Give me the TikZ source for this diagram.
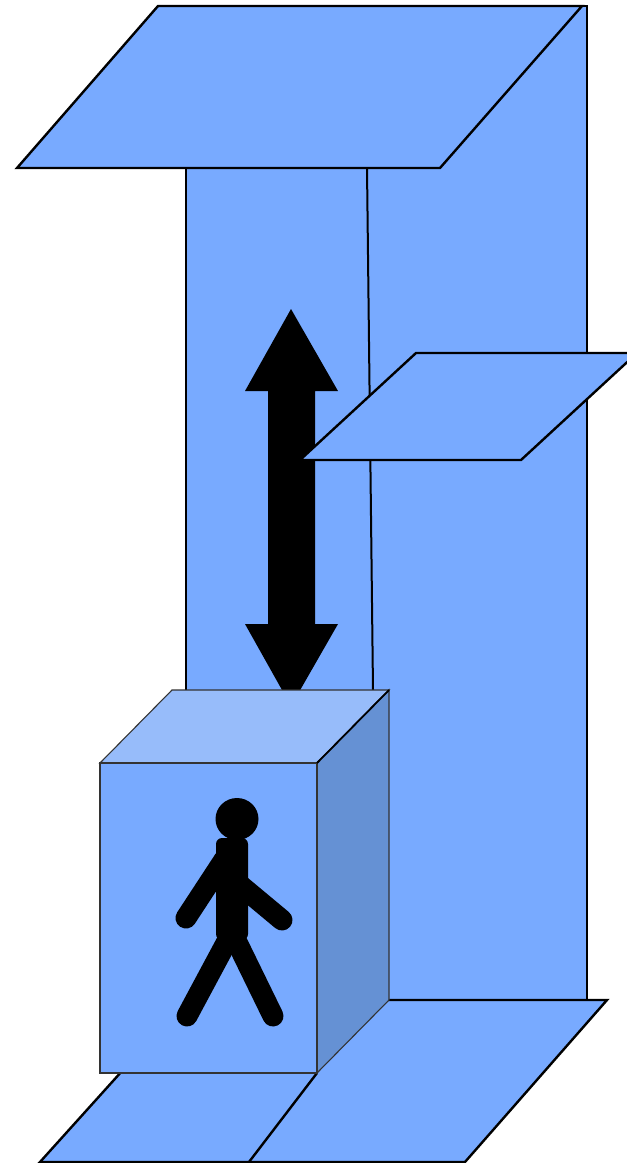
\documentclass[tikz,border=0pt]{standalone}
\begin{document}
\begin{tikzpicture}[x=1pt,y=-1pt,
  line join=miter,
  wall/.style={fill=liftblue,draw=black,line width=2.4pt},
  cabedge/.style={draw=black!80,line width=1.1pt},
  limb/.style={line width=21pt,line cap=round,draw=black},
]
\definecolor{liftblue}{RGB}{120,170,255}
\definecolor{cabtop}{RGB}{151,188,250}
\definecolor{cabside}{RGB}{101,145,212}

\useasboundingbox (0,0) rectangle (627,1163);
\clip (0,0) rectangle (627,1163);

% shaft body and side wall
\draw[wall] (186,6) rectangle (587,1000);
% roof slab
\draw[wall] (158,6) -- (582,6) -- (440,168) -- (17,168) -- cycle;
% corner edge of the shaft
\coordinate (edgeTop) at (367,168);
\coordinate (edgeBot) at (373,690);
\draw[line width=2pt] (edgeTop) -- (edgeBot);

% up/down arrow
\fill[black] (291,309) -- (338,391) -- (315,391) -- (315,624) -- (338,624)
  -- (291,706) -- (245,624) -- (268,624) -- (268,391) -- (245,391) -- cycle;

% landing slab
\draw[wall] (416,353) -- (637,353) -- (521,460) -- (300,460) -- cycle;

% ground slab
\draw[wall] (186,1000) -- (607,1000) -- (465,1162) -- (40,1162) -- cycle;
\draw[line width=2.4pt] (317,1073) -- (249,1162);

% cabin
\draw[cabedge,fill=cabtop] (100,763) -- (172,690) -- (389,690) -- (317,763) -- cycle;
\draw[cabedge,fill=cabside] (317,763) -- (389,690) -- (389,1000) -- (317,1073) -- cycle;
\draw[cabedge,fill=liftblue] (100,763) rectangle (317,1073);
\draw[line width=1.8pt] (317,763) -- (389,690);

% walking figure
\fill[black] (237,819) ellipse (21.5 and 21);
\draw[limb] (224,860) -- (186,918);
\draw[limb] (240,885) -- (282,920);
\draw[limb] (232,932) -- (187,1016);
\draw[limb] (232,932) -- (273,1016);
\fill[black,rounded corners=6pt] (216,838) rectangle (248,940);
\end{tikzpicture}
\end{document}
